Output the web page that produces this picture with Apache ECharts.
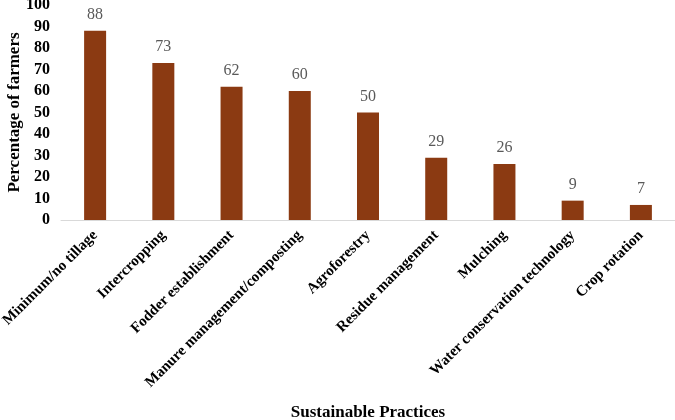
<!DOCTYPE html>
<html>
<head>
<meta charset="utf-8">
<script src="https://cdn.jsdelivr.net/npm/echarts@6/dist/echarts.min.js"></script>
<style>
  html, body { margin: 0; padding: 0; background: #fff; }
  #chart { width: 675px; height: 420px; }
</style>
</head>
<body>
<div id="chart"></div>
<script>
const categories = [
  "Minimum/no tillage",
  "Intercropping",
  "Fodder establishment",
  "Manure management/composting",
  "Agroforestry",
  "Residue management",
  "Mulching",
  "Water conservation technology",
  "Crop rotation",
]
const values = [88, 73, 62, 60, 50, 29, 26, 9, 7]

const FONT = "'Liberation Serif', 'Times New Roman', serif"

const chart = echarts.init(document.getElementById("chart"))
chart.setOption({
  animation: false,
  grid: { left: 61, right: 0, top: 5, bottom: 200, outerBoundsMode: "none" },
  xAxis: {
    type: "category",
    data: categories,
    name: "Sustainable Practices",
    nameLocation: "middle",
    nameMoveOverlap: false,
    nameGap: 184,
    nameTextStyle: { fontFamily: FONT, fontWeight: "bold", fontSize: 17, color: "#000" },
    axisLine: { lineStyle: { color: "#d9d9d9", width: 1 } },
    axisTick: { show: false },
    axisLabel: {
      interval: 0,
      rotate: 45,
      margin: 13,
      fontFamily: FONT,
      fontWeight: "bold",
      fontSize: 15,
      color: "#000",
    },
  },
  yAxis: {
    type: "value",
    min: 0,
    max: 100,
    interval: 10,
    name: "Percentage of farmers",
    nameLocation: "middle",
    nameMoveOverlap: false,
    nameGap: 38,
    nameTextStyle: { fontFamily: FONT, fontWeight: "bold", fontSize: 17, color: "#000" },
    axisLine: { show: false },
    axisTick: { show: false },
    splitLine: { show: false },
    axisLabel: {
      margin: 11,
      fontFamily: FONT,
      fontWeight: "bold",
      fontSize: 16,
      color: "#000",
    },
  },
  series: [
    {
      type: "bar",
      data: values,
      barWidth: 22,
      itemStyle: { color: "#8b3a12" },
      label: {
        show: true,
        position: "top",
        distance: 8,
        fontFamily: FONT,
        fontSize: 16,
        color: "#595959",
      },
    },
  ],
})
</script>
</body>
</html>
